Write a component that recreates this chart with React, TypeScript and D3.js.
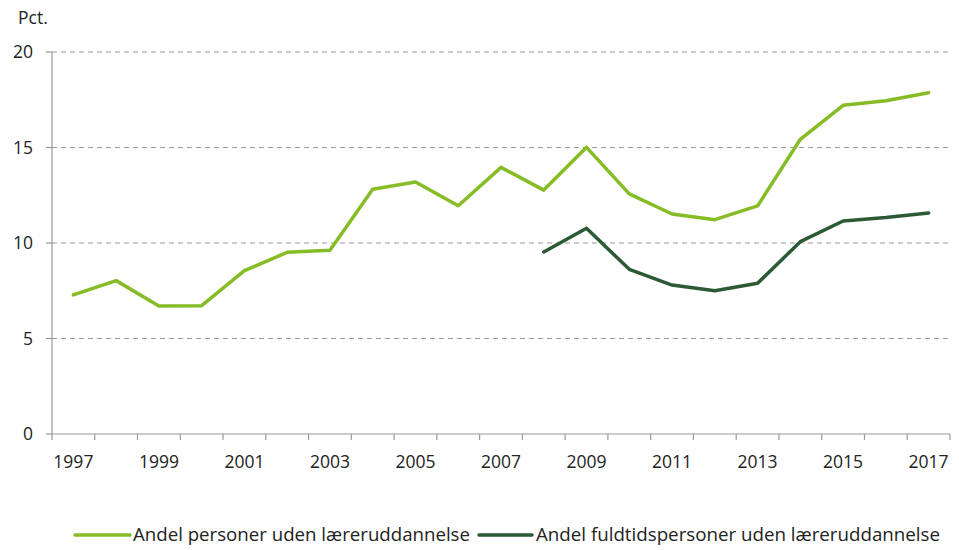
import React from "react";
import * as d3 from "d3";

const years = ["1997","1998","1999","2000","2001","2002","2003","2004","2005","2006","2007","2008","2009","2010","2011","2012","2013","2014","2015","2016","2017"];
const andelPersoner = [7.28, 8.03, 6.70, 6.72, 8.55, 9.51, 9.62, 12.81, 13.19, 11.95, 13.96, 12.77, 15.01, 12.57, 11.52, 11.22, 11.94, 15.43, 17.21, 17.45, 17.87];
const andelFuldtid: (number | null)[] = [null, null, null, null, null, null, null, null, null, null, null, 9.53, 10.77, 8.62, 7.80, 7.50, 7.89, 10.07, 11.15, 11.33, 11.57];
const yTicks = [0, 5, 10, 15, 20];
const seriesNames = ["Andel personer uden læreruddannelse", "Andel fuldtidspersoner uden læreruddannelse"];
const colors = ["#86bc25", "#2b5a35"];

const W = 959, H = 550;
const left = 52, right = 950, top = 52, bottom = 434;
const FONT = "'Open Sans', 'Noto Sans', sans-serif";

export default function App() {
  const x = d3.scaleBand<string>().domain(years).range([left, right]).padding(0);
  const y = d3.scaleLinear().domain([0, 20]).range([bottom, top]);
  const cx = (yr: string) => (x(yr) as number) + x.bandwidth() / 2;
  const line = d3.line<number | null>()
    .defined(d => d != null)
    .x((_, i) => cx(years[i]))
    .y(d => y(d as number));
  const tickXs = years.map(yr => x(yr) as number).concat([right]);
  const legendY = 535;
  return (
    <svg width={W} height={H} style={{ position: "absolute", left: 0, top: 0, background: "#fff" }} fontFamily={FONT}>
      <text x={18} y={24} fontSize={17.5} fill="#222">Pct.</text>
      {yTicks.map(t => (
        <g key={t}>
          {t > 0 && <line x1={left} x2={right} y1={y(t)} y2={y(t)} stroke="#999" strokeWidth={1.2} strokeDasharray="5,4" />}
          <line x1={left - 6} x2={left} y1={y(t)} y2={y(t)} stroke="#999" strokeWidth={1.2} />
          <text x={33} y={y(t)} dy="0.35em" textAnchor="end" fontSize={17.5} fill="#222">{t}</text>
        </g>
      ))}
      <line x1={left} x2={left} y1={top} y2={bottom} stroke="#999" strokeWidth={1.2} />
      <line x1={left} x2={right} y1={bottom} y2={bottom} stroke="#999" strokeWidth={1.2} />
      {tickXs.map((tx, i) => (
        <line key={i} x1={tx} x2={tx} y1={bottom} y2={bottom + 6} stroke="#999" strokeWidth={1.2} />
      ))}
      {years.map((yr, i) => i % 2 === 0 && (
        <text key={yr} x={cx(yr)} y={468} textAnchor="middle" fontSize={17.5} fill="#222">{yr}</text>
      ))}
      <path d={line(andelPersoner) || ""} fill="none" stroke={colors[0]} strokeWidth={3.5} strokeLinejoin="round" strokeLinecap="round" />
      <path d={line(andelFuldtid) || ""} fill="none" stroke={colors[1]} strokeWidth={3.5} strokeLinejoin="round" strokeLinecap="round" />
      <g>
        <line x1={75} x2={130} y1={legendY} y2={legendY} stroke={colors[0]} strokeWidth={3.5} strokeLinecap="round" />
        <text x={133} y={legendY} dy="0.35em" fontSize={17.5} fill="#222" textLength={337} lengthAdjust="spacingAndGlyphs">{seriesNames[0]}</text>
        <line x1={479} x2={532} y1={legendY} y2={legendY} stroke={colors[1]} strokeWidth={3.5} strokeLinecap="round" />
        <text x={536} y={legendY} dy="0.35em" fontSize={17.5} fill="#222" textLength={404} lengthAdjust="spacingAndGlyphs">{seriesNames[1]}</text>
      </g>
    </svg>
  );
}
